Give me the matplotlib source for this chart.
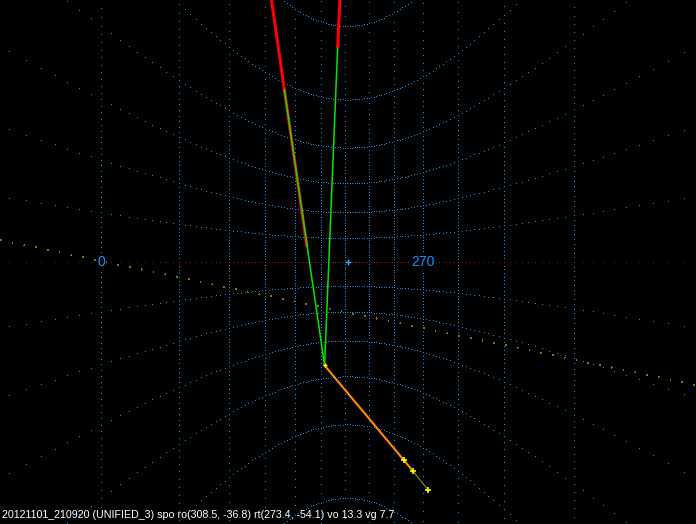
import numpy as np
import matplotlib
matplotlib.use("Agg")
import matplotlib.pyplot as plt

# gnomonic view centred on the horizon
AZ0 = 298.95          # azimuth of view centre (azimuth grows to the left)
SCALE = 136.3         # px per tan unit
CX, CY = 347.5, 262   # pixel position of view centre
W, H = 696, 524

# azimuth labels on the horizon
label_az = [0, 90, 180, 270]
label_txt = ["0", "90", "180", "270"]

# meteor tracks (az, alt in degrees)
left_red_az, left_red_alt = [329.0, 315.5], [60.8, 6.0]
left_green_az, left_green_alt = [323.8, 308.5], [48.9, -36.8]
right_red_az, right_red_alt = [301.7, 303.1], [64.2, 57.4]
right_green_az, right_green_alt = [303.1, 308.5], [57.4, -36.8]

# radiant estimates: ro, two intermediate, rt, last
rad_az = [308.5, 276.4, 273.4, 268.4]
rad_alt = [-36.8, -53.3, -54.1, -55.2]

# reference great circle (olive dotted)
ecl_az, ecl_alt = [7.5, 230.3], [3.37, -18.2]

caption = "20121101_210920 (UNIFIED_3) spo ro(308.5, -36.8) rt(273.4, -54.1) vo 13.3 vg 7.7"


def proj(az, alt, lim=85):
    a = (AZ0 - np.asarray(az, float) + 180) % 360 - 180
    h = np.radians(np.asarray(alt, float))
    ar = np.radians(a)
    x = np.tan(ar)
    y = np.tan(h) / np.cos(ar)
    bad = np.abs(a) > lim
    x = np.where(bad, np.nan, x)
    y = np.where(bad, np.nan, y)
    return x, y


def dots(x, y, col, z):
    # one-pixel dots, no smoothing
    ax.plot(x, y, "s", ms=0.72, mew=0, color=col, antialiased=False, zorder=z)


fig = plt.figure(figsize=(W / 100, H / 100), dpi=100, facecolor="black")
ax = fig.add_axes([0, 0, 1, 1])
ax.set_facecolor("black")
ax.set_xlim((0 - CX) / SCALE, (W - CX) / SCALE)
ax.set_ylim((CY - H) / SCALE, CY / SCALE)
ax.axis("off")

grid_col = "#0c94fa"
# meridians every 10 deg, dots every 1 deg of altitude
alts = np.arange(-89, 90, 1)
for az in range(0, 360, 10):
    x, y = proj(np.full(alts.shape, az), alts)
    dots(x, y, grid_col, 1)

# parallels every 10 deg, dots every 1 deg of azimuth
azs = np.arange(0, 360, 1)
for alt in range(-80, 90, 10):
    if alt == 0:
        continue
    x, y = proj(azs, np.full(azs.shape, alt))
    dots(x, y, grid_col, 1)

# horizon
x, y = proj(azs, np.zeros(azs.shape))
dots(x, y, "#c80000", 2)

# view centre
ax.plot([0], [0], "+", color="#3aa8ff", ms=4, mew=1, zorder=3)

# azimuth labels
for az, t in zip(label_az, label_txt):
    x, y = proj([az], [0], lim=75)
    if np.isnan(x[0]):
        continue
    ax.text(x[0], y[0], t, ha="center", va="center", color="#1e90ff",
            fontsize=10, family="Liberation Sans", zorder=4,
            bbox=dict(facecolor="black", edgecolor="none", pad=1.5))

# reference great circle
x, y = proj(ecl_az, ecl_alt)
ax.plot(x, y, color="#7c7c00", lw=0.72, ls=(0, (0.5, 11)), antialiased=False,
        zorder=5)

# tracks
x, y = proj(left_red_az, left_red_alt)
ax.plot(x, y, color="#ff0000", lw=2.2, solid_capstyle="butt", zorder=6)
x, y = proj(right_red_az, right_red_alt)
ax.plot(x, y, color="#ff0000", lw=2.2, solid_capstyle="butt", zorder=6)
x, y = proj(left_green_az, left_green_alt)
ax.plot(x, y, color="#00e800", lw=1.1, zorder=7)
x, y = proj(right_green_az, right_green_alt)
ax.plot(x, y, color="#00e800", lw=1.1, zorder=7)

# radiant path
x, y = proj(rad_az, rad_alt)
ax.plot([x[0], x[2]], [y[0], y[2]], color="#ff8c00", lw=1.5, zorder=8)
ax.plot([x[2], x[3]], [y[2], y[3]], color="#909000", lw=0.8, zorder=8)
ax.plot(x[:1], y[:1], "+", color="#ffff00", ms=2.5, mew=1, zorder=9)
ax.plot(x[1:], y[1:], "+", color="#ffff00", ms=5, mew=1.2, zorder=9)

# caption, sized to the reference width
txt = fig.text(2 / W, 1 - 518 / H, caption, color="white", fontsize=8,
               family="Liberation Sans", ha="left", va="baseline")
fig.canvas.draw()
w = txt.get_window_extent().width
txt.set_fontsize(8 * 394 / w)

fig.savefig("out.png", dpi=100, facecolor="black")
